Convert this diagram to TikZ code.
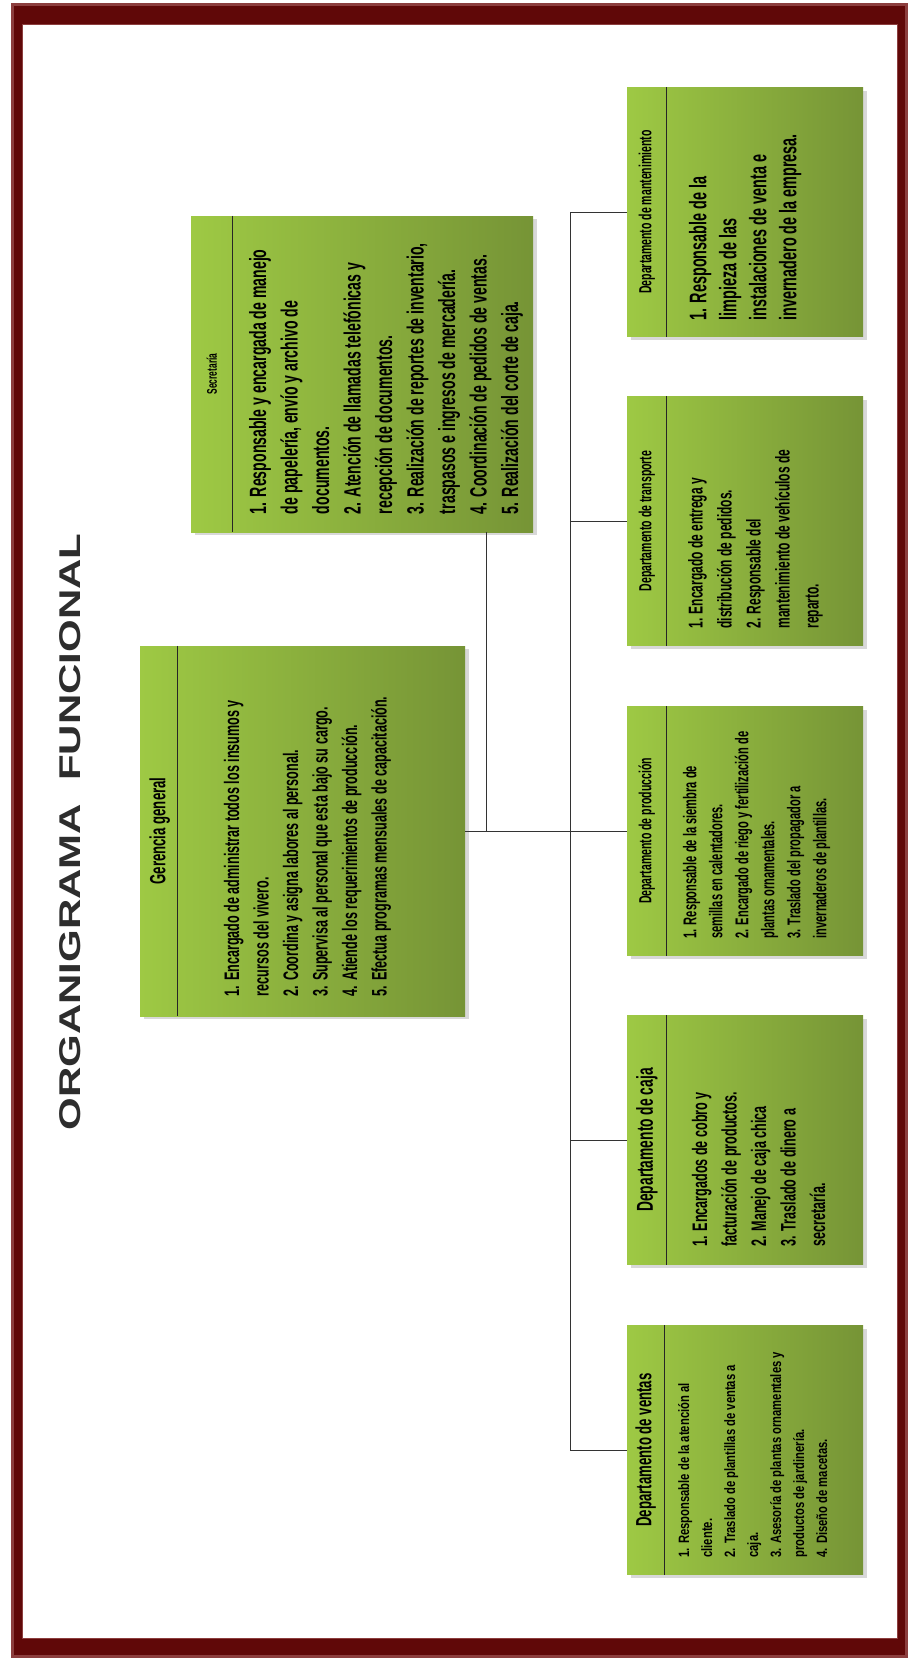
\documentclass[tikz,border=0pt]{standalone}
\usepackage{fontspec}
\setmainfont{Liberation Sans}
\newfontfamily\condA[FakeStretch=0.6]{Liberation Sans}
\newfontfamily\condB[FakeStretch=0.75]{Liberation Sans}
\usetikzlibrary{calc,shadows}

\definecolor{framered}{RGB}{96,8,8}
\definecolor{frameedge}{RGB}{140,62,62}
\definecolor{boxlight}{RGB}{158,201,68}
\definecolor{boxdark}{RGB}{118,148,54}
\definecolor{titlegray}{RGB}{45,45,45}

\tikzset{
  deptbox/.style={rectangle, minimum width=236pt, minimum height=249pt, inner sep=0pt,
    left color=boxlight, right color=boxdark,
    drop shadow={shadow xshift=4pt, shadow yshift=-3pt, opacity=0.3}},
  headtxt/.style={rotate=90, inner sep=0pt, font=\condA\bfseries\fontsize{17.5}{20}\selectfont},
  bodytxt/.style={rotate=90, anchor=north west, inner sep=0pt, align=left},
  divider/.style={draw=black!85, line width=0.8pt},
  link/.style={draw=black!80, line width=0.9pt},
}

\begin{document}
\begin{tikzpicture}[x=1pt,y=-1pt]
  %%%%% FRAME %%%%%
  \useasboundingbox (0,0) rectangle (909,1660);
  \fill[white] (0,0) rectangle (909,1660);
  \fill[framered] (11,3) rectangle (908,1658);
  \draw[frameedge, line width=3pt] (12.5,4.5) rectangle (906.5,1656.5);
  \fill[white] (23,25) rectangle (897,1638);
  \draw[frameedge, line width=1.5pt] (22.5,24.5) rectangle (897.5,1638.5);

  %%%%% TITLE %%%%%
  \node[rotate=90, text=titlegray, font=\bfseries\fontsize{30}{30}\selectfont] (title) at (70,832)
    {\scalebox{1.4}[1]{ORGANIGRAMA\ \ FUNCIONAL}};

  %%%%% BOXES %%%%%
  \node[deptbox, minimum width=342pt, minimum height=316pt] (sec) at (362,374) {};
  \node[deptbox, minimum width=325pt, minimum height=370pt] (ger) at (302.5,831) {};
  \node[deptbox] (man) at (745,212) {};
  \node[deptbox] (tra) at (745,521) {};
  \node[deptbox] (pro) at (745,831) {};
  \node[deptbox] (caj) at (745,1140) {};
  \node[deptbox] (ven) at (745,1450) {};

  \draw[divider] ([xshift=42pt]sec.north west) -- ([xshift=42pt]sec.south west);
  \draw[divider] ([xshift=38pt]ger.north west) -- ([xshift=38pt]ger.south west);
  \draw[divider] ([xshift=40pt]man.north west) -- ([xshift=40pt]man.south west);
  \draw[divider] ([xshift=40pt]tra.north west) -- ([xshift=40pt]tra.south west);
  \draw[divider] ([xshift=40pt]pro.north west) -- ([xshift=40pt]pro.south west);
  \draw[divider] ([xshift=40pt]caj.north west) -- ([xshift=40pt]caj.south west);
  \draw[divider] ([xshift=38pt]ven.north west) -- ([xshift=38pt]ven.south west);

  %%%%% CONNECTORS %%%%%
  \coordinate (bus) at (570,0);
  \coordinate (secfoot) at ([xshift=-47pt]sec.south east);
  \draw[link] (man.west) -- (man.west -| bus) -- (ven.west -| bus) -- (ven.west);
  \draw[link] (tra.west) -- (tra.west -| bus);
  \draw[link] (ger.east) -- (pro.west);
  \draw[link] (caj.west) -- (caj.west -| bus);
  \draw[link] (secfoot) -- (secfoot |- ger.east);

  %%%%% HEADERS %%%%%
  \node[headtxt, font=\condA\bfseries\fontsize{14}{16}\selectfont] (sech) at ([xshift=21pt]sec.west) {Secretaría};
  \node[headtxt, font=\condA\bfseries\fontsize{22}{24}\selectfont] (gerh) at ([xshift=20pt]ger.west) {Gerencia general};
  \node[headtxt] (manh) at ([xshift=20pt]man.west) {Departamento de mantenimiento};
  \node[headtxt] (trah) at ([xshift=20pt]tra.west) {Departamento de transporte};
  \node[headtxt] (proh) at ([xshift=20pt]pro.west) {Departamento de producción};
  \node[headtxt, font=\condA\bfseries\fontsize{23}{25}\selectfont] (cajh) at ([xshift=20pt]caj.west) {Departamento de caja};
  \node[headtxt, font=\condA\bfseries\fontsize{22}{24}\selectfont] (venh) at ([xshift=19pt]ven.west) {Departamento de ventas};

  %%%%% TEXTS %%%%%
  \node[bodytxt, font=\condA\bfseries\fontsize{23.5}{31.5}\selectfont] (secb) at ([xshift=58pt,yshift=18pt]sec.south west)
    {1. Responsable y encargada de manejo\\
     de papelería, envío y archivo de\\
     documentos.\\
     2. Atención de llamadas telefónicas y\\
     recepción de documentos.\\
     3. Realización de reportes de inventario,\\
     traspasos e ingresos de mercadería.\\
     4. Coordinación de pedidos de ventas.\\
     5. Realización del corte de caja.};
  \node[bodytxt, font=\condA\bfseries\fontsize{21}{29.5}\selectfont] (gerb) at ([xshift=84pt,yshift=20pt]ger.south west)
    {1. Encargado de administrar todos los insumos y\\
     recursos del vivero.\\
     2. Coordina y asigna labores al personal.\\
     3. Supervisa al personal que esta bajo su cargo.\\
     4. Atiende los requerimientos de producción.\\
     5. Efectua programas mensuales de capacitación.};
  \node[bodytxt, font=\condA\bfseries\fontsize{24}{30}\selectfont] (manb) at ([xshift=62pt,yshift=16pt]man.south west)
    {1. Responsable de la\\
     limpieza de las\\
     instalaciones de venta e\\
     invernadero de la empresa.};
  \node[bodytxt, font=\condA\bfseries\fontsize{20}{29}\selectfont] (trab) at ([xshift=61pt,yshift=17pt]tra.south west)
    {1. Encargado de entrega y\\
     distribución de pedidos.\\
     2. Responsable del\\
     mantenimiento de vehículos de\\
     reparto.};
  \node[bodytxt, font=\condA\bfseries\fontsize{18.5}{26}\selectfont] (prob) at ([xshift=56pt,yshift=17pt]pro.south west)
    {1. Responsable de la siembra de\\
     semillas en calentadores.\\
     2. Encargado de riego y fertilización de\\
     plantas ornamentales.\\
     3. Traslado del propagador a\\
     invernaderos de plantillas.};
  \node[bodytxt, font=\condA\bfseries\fontsize{21}{29.5}\selectfont] (cajb) at ([xshift=65pt,yshift=18pt]caj.south west)
    {1. Encargados de cobro y\\
     facturación de productos.\\
     2. Manejo de caja chica\\
     3. Traslado de dinero a\\
     secretaría.};
  \node[bodytxt, font=\condB\bfseries\fontsize{15}{23}\selectfont] (venb) at ([xshift=51pt,yshift=17pt]ven.south west)
    {1. Responsable de la atención al\\
     cliente.\\
     2. Traslado de plantillas de ventas a\\
     caja.\\
     3. Asesoría de plantas ornamentales y\\
     productos de jardinería.\\
     4. Diseño de macetas.};
\end{tikzpicture}
\end{document}
